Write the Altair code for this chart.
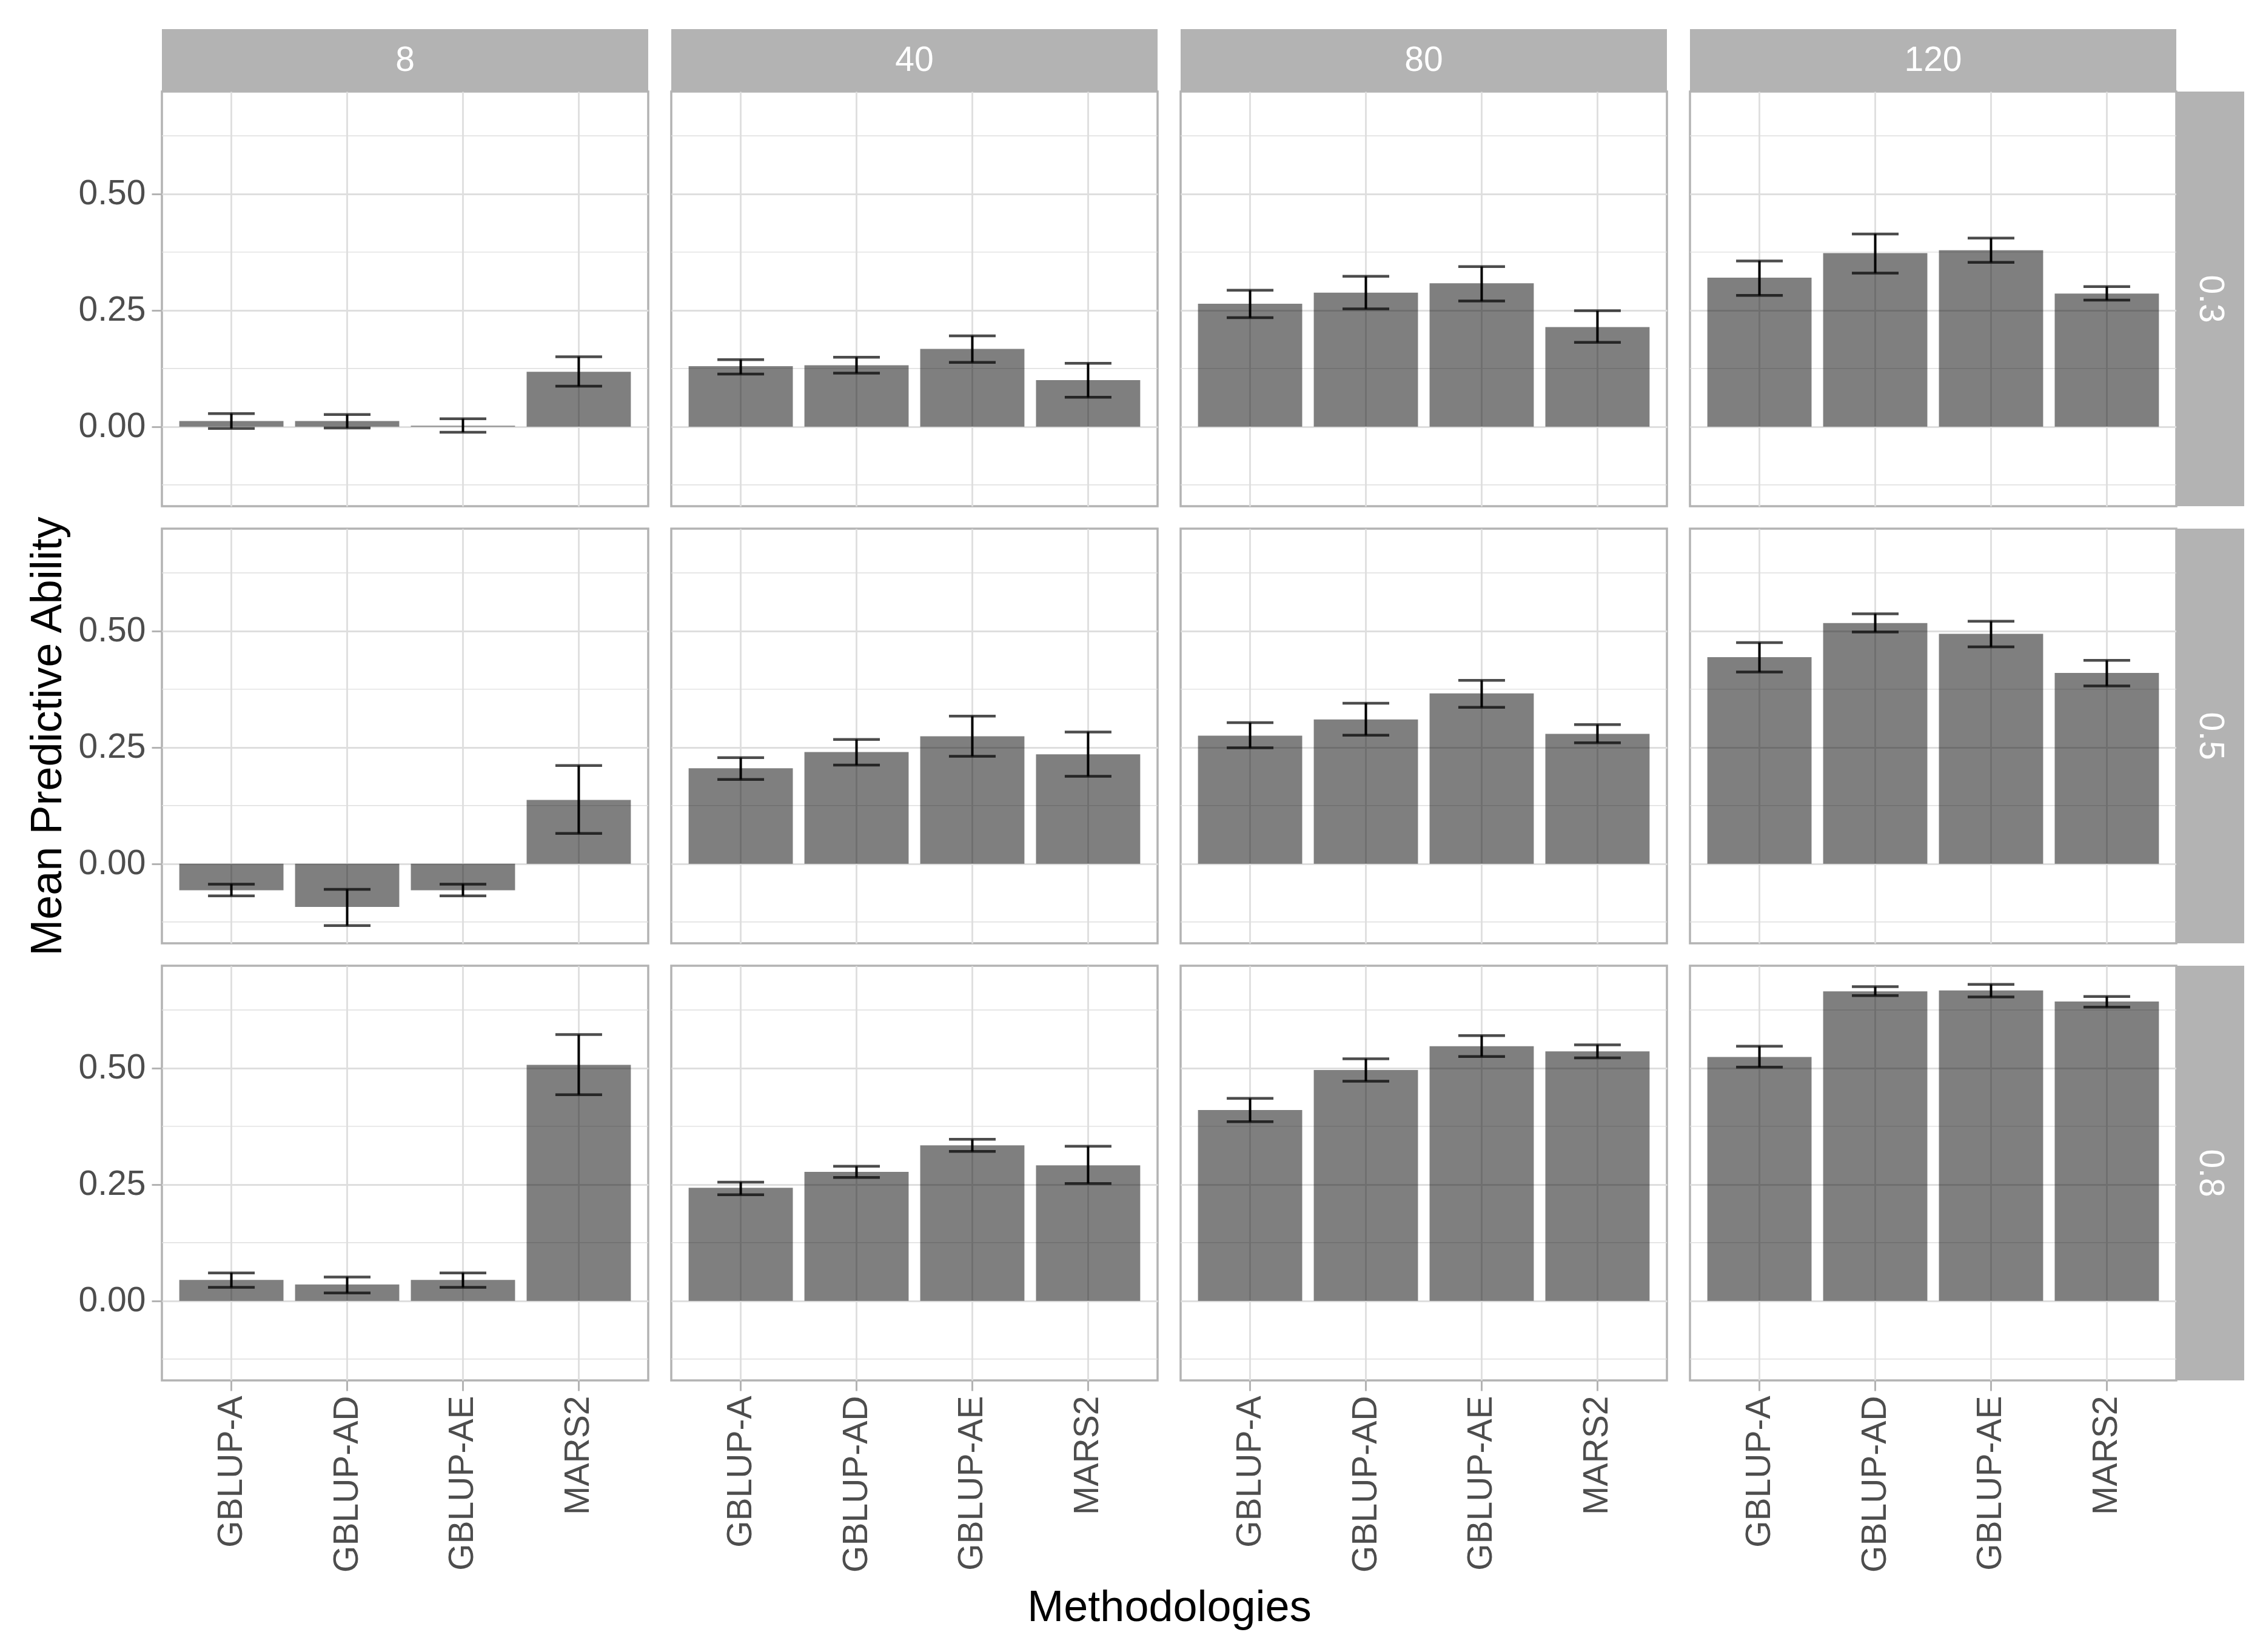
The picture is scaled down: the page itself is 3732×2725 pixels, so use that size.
import altair as alt
import pandas as pd

methods = ["GBLUP-A", "GBLUP-AD", "GBLUP-AE", "MARS2"]
sizes = [8, 40, 80, 120]
heritabilities = ["0.3", "0.5", "0.8"]

# values ordered by training size (8, 40, 80, 120), then by method
mean_h03 = [0.012, 0.012, 0.002, 0.118, 0.130, 0.132, 0.167, 0.100,
            0.264, 0.288, 0.308, 0.214, 0.320, 0.373, 0.379, 0.286]
lo_h03 = [-0.004, -0.003, -0.012, 0.087, 0.113, 0.115, 0.138, 0.063,
          0.234, 0.253, 0.270, 0.181, 0.282, 0.330, 0.353, 0.272]
hi_h03 = [0.028, 0.026, 0.017, 0.150, 0.144, 0.149, 0.195, 0.136,
          0.293, 0.323, 0.344, 0.249, 0.356, 0.414, 0.405, 0.301]

mean_h05 = [-0.057, -0.093, -0.057, 0.137, 0.205, 0.240, 0.274, 0.235,
            0.275, 0.310, 0.366, 0.279, 0.444, 0.517, 0.494, 0.410]
lo_h05 = [-0.069, -0.133, -0.069, 0.065, 0.181, 0.212, 0.231, 0.188,
          0.249, 0.276, 0.336, 0.260, 0.412, 0.498, 0.466, 0.382]
hi_h05 = [-0.044, -0.055, -0.044, 0.211, 0.228, 0.267, 0.317, 0.283,
          0.303, 0.345, 0.394, 0.299, 0.475, 0.537, 0.521, 0.437]

mean_h08 = [0.045, 0.035, 0.045, 0.507, 0.243, 0.277, 0.334, 0.291,
            0.410, 0.496, 0.547, 0.536, 0.524, 0.665, 0.667, 0.643]
lo_h08 = [0.029, 0.017, 0.029, 0.443, 0.228, 0.265, 0.321, 0.252,
          0.385, 0.472, 0.525, 0.522, 0.502, 0.656, 0.653, 0.631]
hi_h08 = [0.060, 0.051, 0.060, 0.572, 0.255, 0.289, 0.347, 0.332,
          0.435, 0.520, 0.570, 0.550, 0.547, 0.675, 0.680, 0.654]

major_breaks = [0.0, 0.25, 0.5]
minor_breaks = [-0.125, 0.125, 0.375, 0.625]
y_domain = [-0.171, 0.72]

rows = []
for h, means, los, his in [("0.3", mean_h03, lo_h03, hi_h03),
                           ("0.5", mean_h05, lo_h05, hi_h05),
                           ("0.8", mean_h08, lo_h08, hi_h08)]:
    k = 0
    for n in sizes:
        for m in methods:
            rows.append({"h2": h, "n": n, "method": m,
                         "mean": means[k], "lo": los[k], "hi": his[k]})
            k += 1
df = pd.DataFrame(rows)
minor_df = pd.DataFrame({"y": minor_breaks})

W, H = 802, 684
COL_GAP, ROW_GAP = 38, 37
STRIP_H = 103
STRIP_W = 112
FONT = "Liberation Sans"
STRIP_FILL = "#B3B3B3"

xscale = alt.Scale(domain=methods, paddingInner=0.1, paddingOuter=0.15)
yscale = alt.Scale(domain=y_domain, nice=False)


def panel(ri, ci):
    h = heritabilities[ri]
    n = sizes[ci]
    d = df[(df.h2 == h) & (df.n == n)]
    left = ci == 0
    bottom = ri == 2

    if bottom and ci == 1:
        xaxis = alt.Axis(grid=True, labels=True, ticks=True, labelAngle=-90,
                         labelPadding=8, labelLimit=0, title="Methodologies",
                         titleX=W + COL_GAP / 2, titleY=396, titleAlign="center",
                         titleBaseline="alphabetic")
    elif bottom:
        xaxis = alt.Axis(grid=True, labels=True, ticks=True, labelAngle=-90,
                         labelPadding=8, labelLimit=0, title=None)
    else:
        xaxis = alt.Axis(grid=True, labels=False, ticks=False, title=None)

    ytitle = "Mean Predictive Ability" if (left and ri == 1) else None
    if left:
        yaxis = alt.Axis(values=major_breaks, format=".2f", grid=True,
                         labels=True, ticks=True, labelPadding=10,
                         title=ytitle, titlePadding=14)
    else:
        yaxis = alt.Axis(values=major_breaks, grid=True, labels=False,
                         ticks=False, title=None)

    X = alt.X("method:N", sort=methods, scale=xscale, axis=xaxis)

    minor = alt.Chart(minor_df).mark_rule(color="#DEDEDE", strokeWidth=1.4).encode(
        y=alt.Y("y:Q", scale=yscale, axis=yaxis)
    )
    bars = alt.Chart(d).mark_bar(color="black", opacity=0.5).encode(
        x=X,
        y=alt.Y("mean:Q", scale=yscale, axis=yaxis),
        y2=alt.datum(0),
    )
    err = alt.Chart(d).mark_rule(color="black", strokeWidth=4).encode(
        x=X,
        y=alt.Y("lo:Q", scale=yscale, axis=yaxis),
        y2="hi:Q",
    )
    cap_lo = alt.Chart(d).mark_tick(color="black", size=77, thickness=4.5).encode(
        x=X, y=alt.Y("lo:Q", scale=yscale, axis=yaxis)
    )
    cap_hi = alt.Chart(d).mark_tick(color="black", size=77, thickness=4.5).encode(
        x=X, y=alt.Y("hi:Q", scale=yscale, axis=yaxis)
    )
    layers = [minor, bars, err, cap_lo, cap_hi]

    if ri == 0:
        lab = pd.DataFrame({"label": [str(n)]})
        layers.append(alt.Chart(lab).mark_rect(color=STRIP_FILL).encode(
            x=alt.value(0), x2=alt.value(W),
            y=alt.value(-STRIP_H), y2=alt.value(0)))
        layers.append(alt.Chart(lab).mark_text(
            color="white", font=FONT, fontSize=57, baseline="middle",
            align="center").encode(
            x=alt.value(W / 2), y=alt.value(-STRIP_H / 2), text="label:N"))
    if ci == 3:
        lab = pd.DataFrame({"label": [h]})
        layers.append(alt.Chart(lab).mark_rect(color=STRIP_FILL).encode(
            x=alt.value(W), x2=alt.value(W + STRIP_W),
            y=alt.value(0), y2=alt.value(H)))
        layers.append(alt.Chart(lab).mark_text(
            color="white", font=FONT, fontSize=57, baseline="middle",
            align="center", angle=90).encode(
            x=alt.value(W + STRIP_W / 2), y=alt.value(H / 2), text="label:N"))

    return alt.layer(*layers).properties(width=W, height=H)


panels = [panel(r, c) for r in range(3) for c in range(4)]

chart = alt.concat(
    *panels, columns=4, spacing={"row": ROW_GAP, "column": COL_GAP},
    bounds="flush"
).properties(
    padding={"left": 32, "top": 38, "right": 5, "bottom": 5},
    background="white",
).configure_view(
    stroke="#B3B3B3", strokeWidth=3.5
).configure_axis(
    domain=False,
    tickColor="#B3B3B3", tickWidth=3, tickSize=17,
    labelColor="#4D4D4D", labelFont=FONT, labelFontSize=57,
    titleFont=FONT, titleFontSize=72, titleFontWeight="normal",
    titleColor="black",
    gridColor="#DEDEDE", gridWidth=2.8,
)

chart.save("out.html", embed_options={"renderer": "svg", "actions": False})
